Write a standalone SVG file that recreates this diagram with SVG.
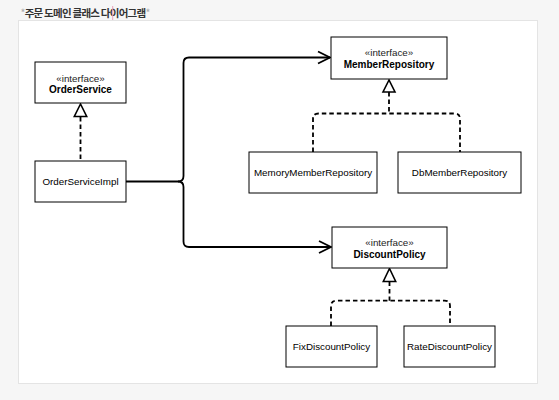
<svg xmlns="http://www.w3.org/2000/svg" width="559" height="400" viewBox="0 0 559 400">
<defs>
<style>
.box{fill:#fff;stroke:#000;stroke-width:1}
.t{font-family:"Liberation Sans",Arial,sans-serif;font-size:9.8px;fill:#000;text-anchor:middle}
.st{font-family:"Liberation Sans",Arial,sans-serif;font-size:9.8px;fill:#222;text-anchor:middle}
.b{font-family:"Liberation Sans",Arial,sans-serif;font-size:10px;font-weight:bold;fill:#000;text-anchor:middle}
.solid{fill:none;stroke:#000;stroke-width:1.8}
.dash{fill:none;stroke:#000;stroke-width:1.8;stroke-dasharray:4.5 3}
.tri{fill:#fff;stroke:#000;stroke-width:1.6;stroke-linejoin:miter}
</style>
</defs>
<rect x="0" y="0" width="559" height="400" fill="#f6f6f6"/>
<rect x="18.5" y="20.5" width="519" height="363" fill="#fff" stroke="#e4e4e4"/>
<g id="title">
<text x="20.5" y="16.5" font-family="'Noto Sans CJK KR','Noto Sans',sans-serif" font-size="10.5px" font-weight="bold" letter-spacing="-0.75" fill="#333"><tspan fill="#aaa" font-weight="normal">*</tspan>주문 도메인 클래스 다이어그램<tspan fill="#aaa" font-weight="normal">*</tspan></text>
<line x1="112.7" y1="6" x2="112.7" y2="20" stroke="#e8a0b8" stroke-width="1"/>
</g>
<g id="connectors">
<path class="solid" d="M126,181.5 H178 Q183.5,181.5 183.5,176 V63 Q183.5,57.5 189,57.5 H330"/>
<polyline class="solid" points="318,51.5 330,57.5 318,63.5"/>
<path class="solid" d="M178,181.5 Q183.5,181.5 183.5,187 V241.5 Q183.5,247 189,247 H331"/>
<polyline class="solid" points="319,241 331,247 319,253"/>
<path class="dash" d="M80.5,117 V161"/>
<polygon class="tri" points="80.5,104 74.3,116.5 86.7,116.5"/>
<path class="dash" d="M389,92 V113.5"/>
<path class="dash" d="M313,152 V119 Q313,113.5 318.5,113.5 H454.5 Q460,113.5 460,119 V152"/>
<polygon class="tri" points="389,80 383,92 395,92"/>
<path class="dash" d="M389.5,281.5 V300.7"/>
<path class="dash" d="M331,326 V306 Q331,300.7 336.5,300.7 H444.5 Q450,300.7 450,306 V326"/>
<polygon class="tri" points="389.5,268.5 383.3,281.5 395.7,281.5"/>
</g>
<g id="OrderService">
<rect class="box" x="35" y="62" width="91" height="41"/>
<text class="st" x="80.5" y="81.5">«interface»</text>
<text class="b" x="80.5" y="92.5">OrderService</text>
</g>
<g id="OrderServiceImpl">
<rect class="box" x="35" y="161" width="91" height="41"/>
<text class="t" x="80.5" y="185">OrderServiceImpl</text>
</g>
<g id="MemberRepository">
<rect class="box" x="331" y="37" width="116" height="42"/>
<text class="st" x="389" y="56">«interface»</text>
<text class="b" x="389" y="67.5">MemberRepository</text>
</g>
<g id="MemoryMemberRepository">
<rect class="box" x="249" y="152" width="128" height="41"/>
<text class="t" x="313" y="176">MemoryMemberRepository</text>
</g>
<g id="DbMemberRepository">
<rect class="box" x="398" y="152" width="123" height="41"/>
<text class="t" x="459.5" y="176">DbMemberRepository</text>
</g>
<g id="DiscountPolicy">
<rect class="box" x="332" y="227" width="115" height="41"/>
<text class="st" x="389.5" y="246">«interface»</text>
<text class="b" x="389.5" y="257.5">DiscountPolicy</text>
</g>
<g id="FixDiscountPolicy">
<rect class="box" x="286" y="326" width="91" height="41"/>
<text class="t" x="331.5" y="350">FixDiscountPolicy</text>
</g>
<g id="RateDiscountPolicy">
<rect class="box" x="404" y="326" width="91" height="41"/>
<text class="t" x="449.5" y="350">RateDiscountPolicy</text>
</g>
</svg>
